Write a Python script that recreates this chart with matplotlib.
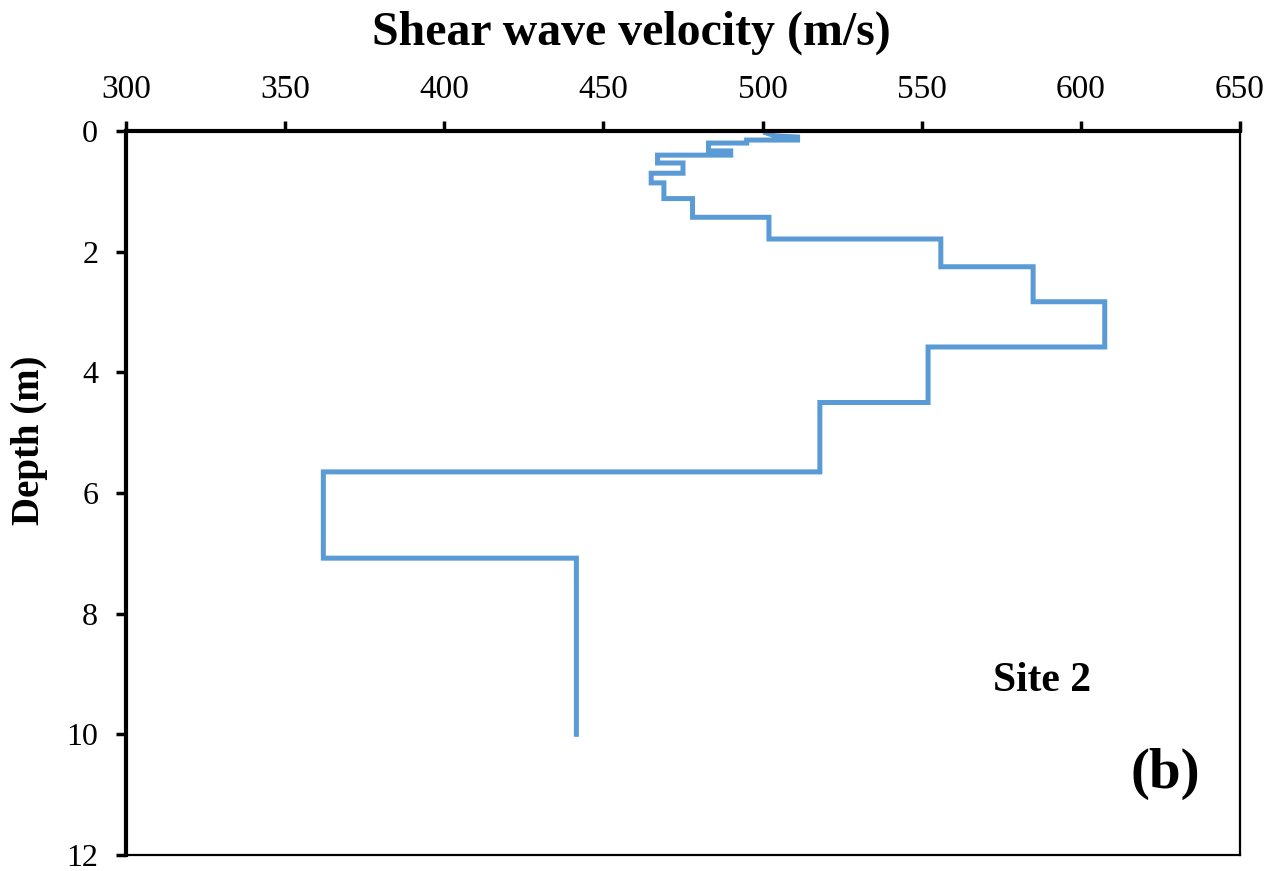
import matplotlib
matplotlib.use("Agg")
import matplotlib.pyplot as plt

# Step profile vertices (velocity m/s, depth m)
velocity = [501, 504, 511, 511, 497, 495, 495, 483, 483, 490, 490, 467, 467, 475, 475,
            465, 465, 469, 469, 478, 478, 502, 502, 556, 556, 585, 585, 607.5, 607.5,
            552, 552, 518, 518, 362, 362, 441.5, 441.5]
depth = [0.03, 0.08, 0.10, 0.15, 0.15, 0.15, 0.20, 0.20, 0.33, 0.33, 0.40, 0.40, 0.53, 0.53, 0.70,
         0.70, 0.86, 0.86, 1.12, 1.12, 1.43, 1.43, 1.79, 1.79, 2.25, 2.25, 2.83, 2.83, 3.58,
         3.58, 4.50, 4.50, 5.65, 5.65, 7.08, 7.08, 10.0]

x_ticks = [300, 350, 400, 450, 500, 550, 600, 650]
y_ticks = [0, 2, 4, 6, 8, 10, 12]

plt.rcParams['font.family'] = ['Liberation Serif', 'DejaVu Serif']

fig = plt.figure(figsize=(12.8, 8.71), dpi=100)
ax = fig.add_axes([126/1280, 1-855/871, (1240-126)/1280, (855-131)/871])

ax.plot(velocity, depth, color='#5B9BD5', lw=3.6, solid_joinstyle='miter')

ax.set_xlim(300, 650)
ax.set_ylim(12, 0)
ax.set_xticks(x_ticks)
ax.set_yticks(y_ticks)
ax.xaxis.tick_top()
ax.tick_params(axis='x', direction='out', length=7, width=2.5, labelsize=24, pad=12)
ax.tick_params(axis='y', direction='out', length=7, width=2.5, labelsize=23, pad=13)
for s in ['left', 'top']:
    ax.spines[s].set_linewidth(3)
for s in ['right', 'bottom']:
    ax.spines[s].set_linewidth(1.6)

fig.text(631/1280, 1-33/871, 'Shear wave velocity (m/s)', ha='center', va='center',
         fontsize=34.5, fontweight='bold')
fig.text(29/1280, 1-440/871, 'Depth (m)', ha='center', va='center', rotation=90,
         fontsize=28, fontweight='bold')

fig.text(1042/1280, 1-681/871, 'Site 2', ha='center', va='center', fontsize=30, fontweight='bold')
fig.text(1165/1280, 1-774/871, '(b)', ha='center', va='center', fontsize=41, fontweight='bold')

fig.savefig('out.png', dpi=100)
